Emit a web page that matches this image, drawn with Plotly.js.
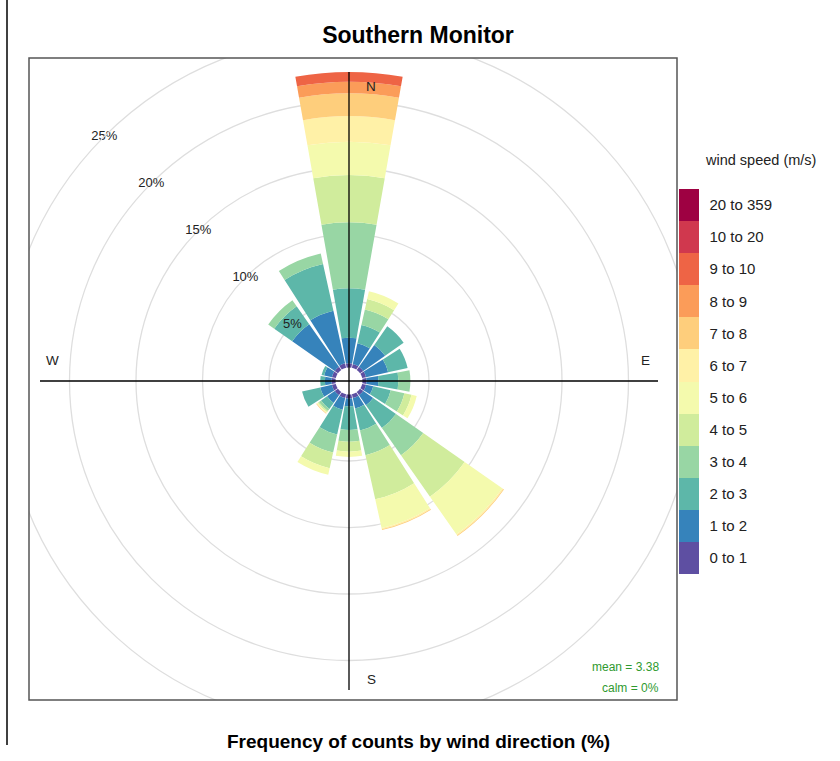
<!DOCTYPE html>
<html>
<head>
<meta charset="utf-8">
<script src="https://cdn.plot.ly/plotly-3.0.1.min.js"></script>
<style>html,body{margin:0;padding:0;background:#fff;}</style>
</head>
<body>
<div id="chart" style="width:840px;height:761px;"></div>
<script>
// Wind directions (degrees, clockwise from north)
const directions = [0, 22.5, 45, 67.5, 90, 112.5, 135, 157.5, 180, 202.5, 225, 247.5, 270, 292.5, 315, 337.5];
// Wind speed classes (m/s)
const speedBins = ["0 to 1","1 to 2","2 to 3","3 to 4","4 to 5","5 to 6","6 to 7","7 to 8","8 to 9","9 to 10","10 to 20","20 to 359"];
// Frequency (%) of each speed class per direction
const freq0to1   = [0.32, 0.30, 0.30, 0.30, 0.30, 0.30, 0.30, 0.30, 0.30, 0.30, 0.30, 0.30, 0.30, 0.30, 0.30, 0.35];
const freq1to2   = [1.92, 1.60, 2.00, 1.70, 0.90, 0.55, 0.90, 0.80, 0.60, 0.90, 0.70, 0.90, 0.50, 0.60, 3.90, 4.05];
const freq2to3   = [3.71, 1.40, 1.70, 1.50, 1.50, 1.35, 2.10, 1.70, 1.77, 1.90, 0.55, 1.40, 0.35, 0.20, 1.65, 3.60];
const freq3to4   = [4.97, 1.20, 0, 0, 0.90, 1.05, 2.50, 1.90, 0.88, 1.40, 0.20, 0, 0, 0, 0.55, 0.80];
const freq4to5   = [3.55, 0.80, 0, 0, 0, 0.55, 3.80, 3.40, 0.75, 1.20, 0.10, 0, 0, 0, 0, 0];
const freq5to6   = [2.51, 0.60, 0, 0, 0, 0.40, 3.45, 2.20, 0.40, 0.50, 0.06, 0, 0, 0, 0, 0];
const freq6to7   = [1.92, 0, 0, 0, 0, 0, 0.10, 0.10, 0, 0, 0.04, 0, 0, 0, 0, 0];
const freq7to8   = [1.72, 0, 0, 0, 0, 0, 0.06, 0.06, 0, 0, 0.04, 0, 0, 0, 0, 0];
const freq8to9   = [0.87, 0, 0, 0, 0, 0, 0, 0, 0, 0, 0, 0, 0, 0, 0, 0];
const freq9to10  = [0.73, 0, 0, 0, 0, 0, 0, 0, 0, 0, 0, 0, 0, 0, 0, 0];
const freq10to20 = [0, 0, 0, 0, 0, 0, 0, 0, 0, 0, 0, 0, 0, 0, 0, 0];
const freq20to359= [0, 0, 0, 0, 0, 0, 0, 0, 0, 0, 0, 0, 0, 0, 0, 0];
// Radial grid values and labels
const gridPct = [5, 10, 15, 20, 25];
const gridLabels = ["5%", "10%", "15%", "20%", "25%"];
// Compass labels
const compassLabels = ["N", "E", "S", "W"];
const meanText = "mean = 3.38";
const calmText = "calm = 0%";

const series = [freq0to1, freq1to2, freq2to3, freq3to4, freq4to5, freq5to6, freq6to7, freq7to8, freq8to9, freq9to10, freq10to20, freq20to359];
const colors = ["#5E4FA2","#3683BB","#5DB7A9","#98D6A4","#D0EC9C","#F4FAAD","#FFF1A7","#FECE7C","#FB9C59","#EE6445","#D0384E","#9E0142"];

const W = 840, H = 761;
const cx = 349, cy = 381, R = 346;
const rStart = -1.015, rEnd = 25;

const traces = [];
speedBins.forEach((name, i) => {
  traces.push({
    type: 'barpolar', r: series[i], theta: directions, name: name, width: 20,
    marker: {color: colors[i], line: {width: 0}},
    showlegend: false, hoverinfo: 'skip'
  });
});

const totals = directions.map((d, j) => series.reduce((s, arr) => s + arr[j], 0));
const maxTotal = Math.max(...totals);

traces.push({type: 'scatterpolar', mode: 'lines', r: [maxTotal, rStart, maxTotal], theta: [0, 0, 180],
  line: {color: '#000', width: 1.3}, showlegend: false, hoverinfo: 'skip', cliponaxis: false});
traces.push({type: 'scatterpolar', mode: 'lines', r: [maxTotal, rStart, maxTotal], theta: [90, 90, 270],
  line: {color: '#000', width: 1.3}, showlegend: false, hoverinfo: 'skip', cliponaxis: false});

traces.push({type: 'scatterpolar', mode: 'text', r: gridPct, theta: gridPct.map(() => 315), text: gridLabels,
  textfont: {size: 13, color: '#222'}, textposition: 'middle center', showlegend: false, hoverinfo: 'skip', cliponaxis: false});

const cs = [];
colors.forEach((c, i) => { cs.push([i / 12, c]); cs.push([(i + 1) / 12, c]); });
traces.push({type: 'scatterpolar', mode: 'markers', r: [0], theta: [0], hoverinfo: 'skip', showlegend: false,
  marker: {size: 1, opacity: 0, color: [0], colorscale: cs, cmin: 0, cmax: 12, showscale: true,
    colorbar: {x: 679 / W, xanchor: 'left', y: (H - 381.5) / H, yanchor: 'middle', len: 385, lenmode: 'pixels',
      thickness: 20, thicknessmode: 'pixels', xpad: 0, ypad: 0, outlinewidth: 0,
      tickvals: speedBins.map((_, i) => i + 0.5), ticktext: speedBins, ticks: 'outside', ticklen: 8,
      tickcolor: 'rgba(0,0,0,0)', tickfont: {size: 15, color: '#222'}}}});

const px = x => x / W, py = y => (H - y) / H;
const ann = (text, x, y, size, color, xanchor) => ({text: text, x: px(x), y: py(y), xref: 'paper', yref: 'paper',
  xanchor: xanchor || 'center', yanchor: 'middle', showarrow: false, font: {size: size, color: color}});

const layout = {
  width: W, height: H, margin: {l: 0, r: 0, t: 0, b: 0}, paper_bgcolor: '#fff', showlegend: false,
  font: {family: 'Liberation Sans, Arial, sans-serif', color: '#222'},
  title: {text: 'Southern Monitor', font: {size: 23, weight: 'bold', color: '#000'}, x: px(418), xanchor: 'center',
    y: py(35), yanchor: 'middle', xref: 'paper', yref: 'container'},
  polar: {
    domain: {x: [px(cx - R), px(cx + R)], y: [py(cy + R), py(cy - R)]},
    bgcolor: '#fff', barmode: 'stack', hole: 0,
    radialaxis: {range: [rStart, rEnd], tickvals: gridPct, showticklabels: false, ticks: '', showline: false,
      gridcolor: '#dedede', gridwidth: 1.3},
    angularaxis: {direction: 'clockwise', rotation: 90, showgrid: false, showticklabels: false, ticks: '',
      showline: true, linecolor: '#dedede', linewidth: 1.3}
  },
  shapes: [
    {type: 'rect', xref: 'paper', yref: 'paper', x0: -0.01, x1: px(29), y0: -0.01, y1: 1.01, fillcolor: '#fff', line: {width: 0}, layer: 'above'},
    {type: 'rect', xref: 'paper', yref: 'paper', x0: px(677), x1: 1.01, y0: -0.01, y1: 1.01, fillcolor: '#fff', line: {width: 0}, layer: 'above'},
    {type: 'rect', xref: 'paper', yref: 'paper', x0: -0.01, x1: 1.01, y0: py(58), y1: 1.01, fillcolor: '#fff', line: {width: 0}, layer: 'above'},
    {type: 'rect', xref: 'paper', yref: 'paper', x0: -0.01, x1: 1.01, y0: -0.01, y1: py(700), fillcolor: '#fff', line: {width: 0}, layer: 'above'},
    {type: 'rect', xref: 'paper', yref: 'paper', x0: px(29), x1: px(677), y0: py(700), y1: py(58), fillcolor: 'rgba(0,0,0,0)', line: {color: '#555', width: 1.5}, layer: 'above'},
    {type: 'line', xref: 'paper', yref: 'paper', x0: px(7), x1: px(7), y0: 1, y1: py(745), line: {color: '#000', width: 1.5}, layer: 'above'}
  ],
  annotations: [
    ann(compassLabels[0], 371, 86, 13.5, '#222'),
    ann(compassLabels[1], 645, 360, 13.5, '#222'),
    ann(compassLabels[2], 371, 679, 13.5, '#222'),
    ann(compassLabels[3], 52, 360, 13.5, '#222'),
    ann(meanText, 661, 667, 12, '#2f9a2f', 'right'),
    ann(calmText, 661, 688, 12, '#2f9a2f', 'right'),
    ann('wind speed (m/s)', 760, 160, 14.5, '#222'),
    ann('<b>Frequency of counts by wind direction (%)</b>', 418, 741, 19, '#000')
  ]
};

Plotly.newPlot('chart', traces, layout, {displayModeBar: false, staticPlot: true});
</script>
</body>
</html>
